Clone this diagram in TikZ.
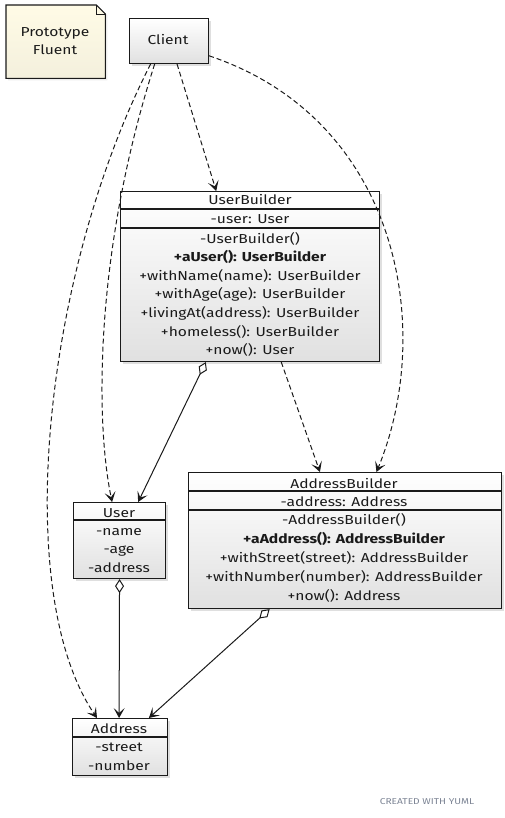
\documentclass[tikz,border=0pt]{standalone}
\usepackage{fontspec}
\setmainfont{Fira Sans}[FakeStretch=1.2]
\usetikzlibrary{arrows.meta,calc,shadows}
\definecolor{notecol}{HTML}{FFFBE6}
\definecolor{linecol}{HTML}{1A1A1A}
\definecolor{footcol}{HTML}{7C8494}
\begin{document}
\begin{tikzpicture}[x=1pt,y=-1pt,
  classbox/.style={draw=linecol, line width=1.1pt, top color=white, bottom color=gray!24,
    drop shadow={shadow xshift=2pt, shadow yshift=-2pt, opacity=0.25},
    anchor=north west, inner sep=0pt},
  txt/.style={font=\fontsize{13}{15}\selectfont, inner sep=0pt, text=linecol, anchor=base},
  btxt/.style={font=\fontsize{13}{15}\selectfont\bfseries, inner sep=0pt, text=linecol, anchor=base},
  sep/.style={draw=linecol, line width=1.1pt},
  dep/.style={draw=linecol, line width=1pt, dash pattern=on 5pt off 3pt, -{Stealth[length=10pt,width=11pt,inset=5pt]}},
  agg/.style={draw=linecol, line width=1pt, {Diamond[open,length=14pt,width=9pt,line width=1pt]}-{Stealth[length=10pt,width=11pt,inset=5pt]}}
]
\useasboundingbox (0,0) rectangle (504,818);

% note
\node[inner sep=0pt, minimum width=99pt, minimum height=73pt, anchor=north west] (note) at (6,5) {};
\fill[gray!30, opacity=0.5] ($(note.north west)+(2,2)$) -- ($(note.north east)+(-8,2)$) -- ($(note.north east)+(2,10)$) -- ($(note.south east)+(2,2)$) -- ($(note.south west)+(2,2)$) -- cycle;
\shade[top color=notecol, bottom color=notecol!85!gray!60!notecol] (note.north west) -- ($(note.north east)+(-9,0)$) -- ($(note.north east)+(0,9)$) -- (note.south east) -- (note.south west) -- cycle;
\draw[draw=linecol, line width=1.1pt] (note.north west) -- ($(note.north east)+(-9,0)$) -- ($(note.north east)+(0,9)$) -- (note.south east) -- (note.south west) -- cycle;
\draw[linecol, line width=0.8pt] ($(note.north east)+(-9,0)$) -- ($(note.north east)+(-9,9)$) -- ($(note.north east)+(0,9)$);
\node[txt] (noteT1) at (55,37) {Prototype};
\node[txt] (noteT2) at (55,55) {Fluent};

% client
\node[classbox, minimum width=79pt, minimum height=45pt] (client) at (129,18) {};
\node[txt] (clientT) at (168,45) {Client};

% UserBuilder
\node[classbox, minimum width=259pt, minimum height=170pt] (ub) at (120,191) {};
\draw[sep] (120,209) -- (379,209);
\draw[sep] (120,228) -- (379,228);
\node[txt]  (ub1) at (250,205) {UserBuilder};
\node[txt]  (ub2) at (250,223) {-user: User};
\node[txt]  (ub3) at (250,243) {-UserBuilder()};
\node[btxt] (ub4) at (250,261) {+aUser(): UserBuilder};
\node[txt]  (ub5) at (250,280) {+withName(name): UserBuilder};
\node[txt]  (ub6) at (250,298) {+withAge(age): UserBuilder};
\node[txt]  (ub7) at (250,317) {+livingAt(address): UserBuilder};
\node[txt]  (ub8) at (250,336) {+homeless(): UserBuilder};
\node[txt]  (ub9) at (250,354) {+now(): User};

% AddressBuilder
\node[classbox, minimum width=313pt, minimum height=136pt] (ab) at (188,472) {};
\draw[sep] (188,491) -- (501,491);
\draw[sep] (188,510) -- (501,510);
\node[txt]  (ab1) at (344,488) {AddressBuilder};
\node[txt]  (ab2) at (344,506) {-address: Address};
\node[txt]  (ab3) at (344,524) {-AddressBuilder()};
\node[btxt] (ab4) at (344,543) {+aAddress(): AddressBuilder};
\node[txt]  (ab5) at (344,562) {+withStreet(street): AddressBuilder};
\node[txt]  (ab6) at (344,581) {+withNumber(number): AddressBuilder};
\node[txt]  (ab7) at (344,600) {+now(): Address};

% User
\node[classbox, minimum width=92pt, minimum height=76pt] (user) at (73,502) {};
\draw[sep] (73,520) -- (165,520);
\node[txt] (u1) at (119,517) {User};
\node[txt] (u2) at (119,535) {-name};
\node[txt] (u3) at (119,553) {-age};
\node[txt] (u4) at (119,572) {-address};

% Address
\node[classbox, minimum width=95pt, minimum height=57pt] (addr) at (72,718) {};
\draw[sep] (72,737) -- (167,737);
\node[txt] (a1) at (119,733) {Address};
\node[txt] (a2) at (119,751) {-street};
\node[txt] (a3) at (119,770) {-number};

% connectors
\draw[dep] ($(client.south west)!0.6!(client.south east)$) -- ($(ub.north west)!0.37!(ub.north east)$);
\draw[dep] ($(client.north east)!0.82!(client.south east)$) .. controls (400,120) and (435,330) .. ($(ab.north west)!0.6!(ab.north east)$);
\draw[dep] ($(client.south west)!0.32!(client.south east)$) .. controls (95,250) and (95,420) .. ($(user.north west)!0.42!(user.north east)$);
\draw[dep] ($(client.south west)!0.27!(client.south east)$) .. controls (45,270) and (10,590) .. ($(addr.north west)!0.26!(addr.north east)$);
\draw[agg] ($(ub.south west)!0.33!(ub.south east)$) -- ($(user.north west)!0.7!(user.north east)$);
\draw[dep] ($(ub.south west)!0.62!(ub.south east)$) -- ($(ab.north west)!0.42!(ab.north east)$);
\draw[agg] ($(user.south west)!0.5!(user.south east)$) -- ($(addr.north west)!0.49!(addr.north east)$);
\draw[agg] ($(ab.south west)!0.26!(ab.south east)$) -- ($(addr.north west)!0.8!(addr.north east)$);

% footer
\node[font=\fontsize{8.5}{10}\selectfont, text=footcol, inner sep=0pt] (credit) at (427,802) {CREATED WITH YUML};
\end{tikzpicture}
\end{document}
